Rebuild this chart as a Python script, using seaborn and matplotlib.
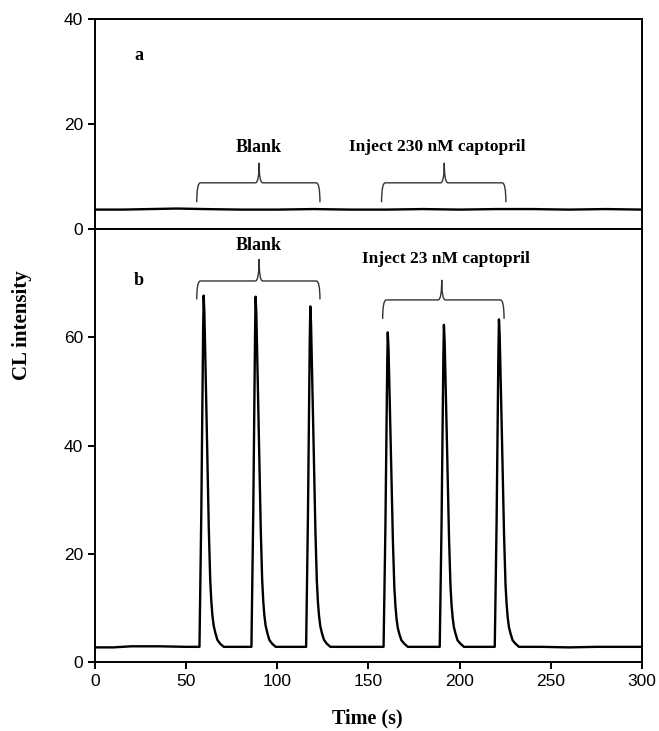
import seaborn as sns
import matplotlib.pyplot as plt
import pandas as pd
from matplotlib.path import Path
from matplotlib.patches import PathPatch

# --- Data (time in s, CL intensity) ---
# panel a: captopril injected at 230 nM, signal fully quenched -> flat baseline
time_a = [0, 15, 30, 45, 60, 80, 100, 120, 140, 160, 180, 200, 220, 240, 260, 280, 300]
cl_a = [3.7, 3.7, 3.8, 3.9, 3.8, 3.7, 3.7, 3.8, 3.7, 3.7, 3.8, 3.7, 3.8, 3.8, 3.7, 3.8, 3.7]

# panel b: three blank peaks followed by three 23 nM captopril peaks
time_b = [0, 10, 20, 35, 50,
          57.3, 58.3, 59.3, 59.6, 60.0, 61.0, 62.4, 63.2, 63.8, 64.4, 65.1, 66.0, 67.1, 68.6, 70.6,
          78.0,
          85.8, 86.8, 87.8, 88.1, 88.5, 89.5, 90.9, 91.7, 92.3, 92.9, 93.6, 94.5, 95.6, 97.1, 99.1,
          108.0,
          115.8, 116.8, 117.8, 118.1, 118.5, 119.5, 120.9, 121.7, 122.3, 122.9, 123.6, 124.5, 125.6, 127.1, 129.1,
          140.0, 150.0,
          158.3, 159.3, 160.3, 160.6, 161.0, 162.0, 163.4, 164.2, 164.8, 165.4, 166.1, 167.0, 168.1, 169.6, 171.6,
          180.0,
          189.1, 190.1, 191.1, 191.4, 191.8, 192.8, 194.2, 195.0, 195.6, 196.2, 196.9, 197.8, 198.9, 200.4, 202.4,
          211.0,
          219.3, 220.3, 221.3, 221.6, 222.0, 223.0, 224.4, 225.2, 225.8, 226.4, 227.1, 228.0, 229.1, 230.6, 232.6,
          245.0, 260.0, 275.0, 290.0, 300.0]
cl_b = [2.7, 2.7, 2.9, 2.9, 2.8,
        2.8, 27.5, 61.2, 67.7, 64.5, 48.2, 24.9, 15.1, 11.2, 8.6, 6.7, 5.4, 4.1, 3.4, 2.8,
        2.8,
        2.8, 27.4, 61.0, 67.5, 64.3, 48.1, 24.8, 15.1, 11.2, 8.6, 6.7, 5.4, 4.1, 3.4, 2.8,
        2.8,
        2.8, 26.7, 59.4, 65.7, 62.6, 46.8, 24.2, 14.8, 11.0, 8.5, 6.6, 5.3, 4.1, 3.4, 2.8,
        2.8, 2.8,
        2.8, 24.9, 55.1, 60.9, 58.0, 43.5, 22.6, 13.8, 10.4, 8.0, 6.3, 5.1, 4.0, 3.4, 2.8,
        2.8,
        2.8, 25.4, 56.4, 62.3, 59.3, 44.5, 23.0, 14.1, 10.5, 8.2, 6.4, 5.2, 4.0, 3.4, 2.8,
        2.8,
        2.8, 25.8, 57.3, 63.3, 60.3, 45.2, 23.4, 14.3, 10.7, 8.2, 6.4, 5.2, 4.0, 3.4, 2.8,
        2.8, 2.7, 2.8, 2.8, 2.8]

x_ticks = [0, 50, 100, 150, 200, 250, 300]
yticks_a = [0, 20, 40]
yticks_b = [0, 20, 40, 60]

df_a = pd.DataFrame({'Time': time_a, 'CL': cl_a})
df_b = pd.DataFrame({'Time': time_b, 'CL': cl_b})

# --- Style ---
sns.set_style("ticks")
serif = ['Liberation Serif', 'DejaVu Serif']
plt.rcParams['font.family'] = ['Liberation Sans', 'DejaVu Sans']
plt.rcParams['text.color'] = 'black'


def draw_brace(ax, x0, x1, xm, y_end, y_bar, y_tip):
    # curly brace opening downward, drawn in data coordinates
    w = (x1 - x0) * 0.03
    verts = [(x0, y_end), (x0, y_bar), (x0 + w, y_bar),
             (xm - w, y_bar), (xm, y_bar), (xm, y_tip),
             (xm, y_bar), (xm + w, y_bar),
             (x1 - w, y_bar), (x1, y_bar), (x1, y_end)]
    codes = [Path.MOVETO, Path.CURVE3, Path.CURVE3,
             Path.LINETO, Path.CURVE3, Path.CURVE3,
             Path.CURVE3, Path.CURVE3,
             Path.LINETO, Path.CURVE3, Path.CURVE3]
    ax.add_patch(PathPatch(Path(verts, codes), fill=False, lw=1.0, color='#333333'))


fig = plt.figure(figsize=(6.59, 7.31), dpi=100)
ax_a = fig.add_axes([0.1442, 0.6867, 0.8298, 0.2873])
ax_b = fig.add_axes([0.1442, 0.0944, 0.8298, 0.5923])

# --- Panel a ---
sns.lineplot(data=df_a, x='Time', y='CL', ax=ax_a, color='black', lw=1.7, estimator=None)
ax_a.set_xlim(0, 300)
ax_a.set_ylim(0, 40)
ax_a.set_yticks(yticks_a)
ax_a.tick_params(bottom=False, labelbottom=False)
ax_a.set_xlabel('')
ax_a.set_ylabel('')
ax_a.text(24, 33, 'a', family=serif, fontweight='bold', fontsize=13, ha='center', va='center')
draw_brace(ax_a, 55.8, 123.4, 90.0, 5.1, 8.8, 12.6)
draw_brace(ax_a, 157.2, 225.4, 191.6, 5.1, 8.8, 12.6)
ax_a.text(90, 15.6, 'Blank', family=serif, fontweight='bold', fontsize=13, ha='center', va='center')
ax_a.text(188, 15.6, 'Inject 230 nM captopril', family=serif, fontweight='bold', fontsize=12.5,
          ha='center', va='center')

# --- Panel b ---
sns.lineplot(data=df_b, x='Time', y='CL', ax=ax_b, color='black', lw=1.7, estimator=None)
ax_b.set_xlim(0, 300)
ax_b.set_ylim(0, 80)
ax_b.set_xticks(x_ticks)
ax_b.set_yticks(yticks_b)
ax_b.set_xlabel('')
ax_b.set_ylabel('')
ax_b.text(24, 70.4, 'b', family=serif, fontweight='bold', fontsize=13, ha='center', va='center')
draw_brace(ax_b, 55.8, 123.4, 90.0, 67.0, 70.4, 74.4)
draw_brace(ax_b, 157.8, 224.4, 190.2, 63.4, 66.9, 70.6)
ax_b.text(90, 76.9, 'Blank', family=serif, fontweight='bold', fontsize=13, ha='center', va='center')
ax_b.text(192.5, 74.4, 'Inject 23 nM captopril', family=serif, fontweight='bold', fontsize=12.5,
          ha='center', va='center')

for ax in (ax_a, ax_b):
    for s in ax.spines.values():
        s.set_linewidth(1.4)
        s.set_color('black')
    ax.tick_params(direction='out', length=5, width=1.4, labelsize=12.5, colors='black')

fig.text(0.033, 1 - 325 / 731, 'CL intensity', family=serif, fontweight='bold', fontsize=15,
         rotation=90, ha='center', va='center')
fig.text(367 / 659, 1 - 718 / 731, 'Time (s)', family=serif, fontweight='bold', fontsize=14.5,
         ha='center', va='center')

fig.savefig('out.png', dpi=100)
